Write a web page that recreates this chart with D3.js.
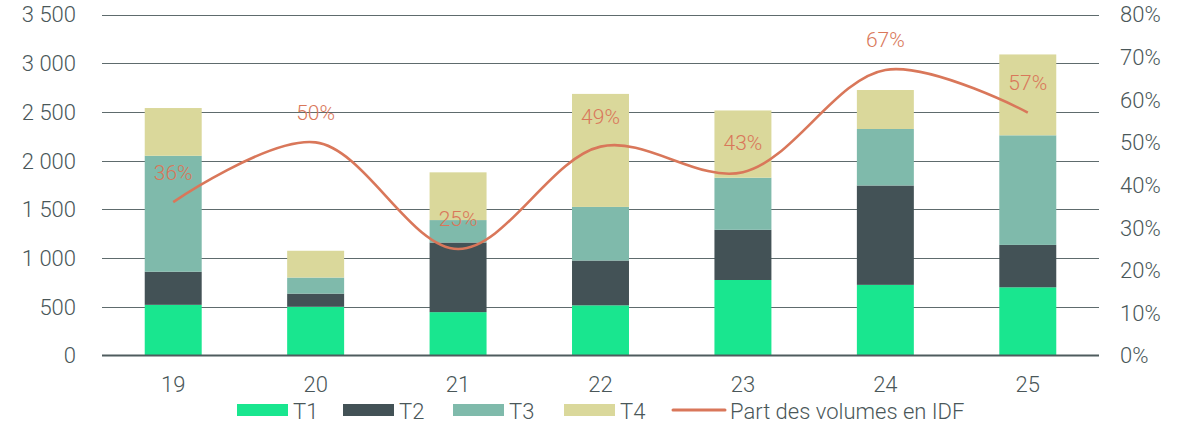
<!DOCTYPE html>
<html><head><meta charset="utf-8">
<script src="https://cdn.jsdelivr.net/npm/d3@7"></script>
<style>body{margin:0;background:#fff;}svg{display:block;font-family:Roboto,"Noto Sans",sans-serif;font-weight:300;}</style>
</head><body><svg id="c" width="1186" height="423"></svg>
<script>
const categories = ["19","20","21","22","23","24","25"];
const T1 = [520, 500, 445, 515, 775, 725, 700];
const T2 = [340, 135, 715, 460, 515, 1020, 435];
const T3 = [1190, 165, 230, 550, 535, 580, 1125];
const T4 = [490, 275, 490, 1160, 690, 400, 830];
const partIDF = [36, 50, 25, 49, 43, 67, 57];
const leftTicks = [0,500,1000,1500,2000,2500,3000,3500];
const rightTicks = [0,10,20,30,40,50,60,70,80];
const seriesNames = ["T1","T2","T3","T4"];
const colors = ["#19E68F","#435256","#7FBAAB","#DAD89B"];
const lineColor = "#D9775A";
const textColor = "#4A5759";

const svg = d3.select("#c");
const m = {l:102, r:1099, t:14.5, b:355.5};
const x = d3.scaleBand().domain(categories).range([m.l, m.r]).paddingInner(0.6).paddingOuter(0.3);
const y = d3.scaleLinear().domain([0,3500]).range([m.b, m.t]);
const y2 = d3.scaleLinear().domain([0,80]).range([m.b, m.t]);
const fs = 22;

// gridlines
svg.append("g").selectAll("line").data(leftTicks.filter(d=>d>0)).join("line")
  .attr("x1", m.l).attr("x2", m.r)
  .attr("y1", d=>Math.round(y(d))+0.5).attr("y2", d=>Math.round(y(d))+0.5)
  .attr("stroke", "#5E6B6D").attr("stroke-width", 1);

// left axis labels
svg.append("g").selectAll("text").data(leftTicks).join("text")
  .attr("x", 76).attr("y", d=>y(d)).attr("dy","0.36em")
  .attr("text-anchor","end").attr("fill", textColor).attr("font-size", fs)
  .text(d=>d3.format(",")(d).replace(",", " "));

// right axis labels
svg.append("g").selectAll("text").data(rightTicks).join("text")
  .attr("x", 1120).attr("y", d=>y2(d)).attr("dy","0.36em")
  .attr("text-anchor","start").attr("fill", textColor).attr("font-size", fs)
  .text(d=>d+"%");

// stacked bars
const rows = categories.map((c,i)=>({cat:c, T1:T1[i], T2:T2[i], T3:T3[i], T4:T4[i]}));
const stack = d3.stack().keys(seriesNames)(rows);
svg.append("g").selectAll("g").data(stack).join("g")
  .attr("fill", (d,i)=>colors[i])
  .selectAll("rect").data(d=>d).join("rect")
  .attr("x", d=>x(d.data.cat)).attr("width", x.bandwidth())
  .attr("y", d=>y(d[1])).attr("height", d=>y(d[0])-y(d[1]));

// baseline
svg.append("line").attr("x1", m.l).attr("x2", m.r).attr("y1", m.b).attr("y2", m.b)
  .attr("stroke", "#4F5C5E").attr("stroke-width", 2);

// x labels
svg.append("g").selectAll("text").data(categories).join("text")
  .attr("x", d=>x(d)+x.bandwidth()/2).attr("y", 384).attr("dy","0.36em")
  .attr("text-anchor","middle").attr("fill", textColor).attr("font-size", fs).text(d=>d);

// line
const line = d3.line().x((d,i)=>x(categories[i])+x.bandwidth()/2).y(d=>y2(d)).curve(d3.curveCatmullRom.alpha(0.5));
svg.append("path").datum(partIDF).attr("d", line).attr("fill","none")
  .attr("stroke", lineColor).attr("stroke-width", 2.6);

// line labels
svg.append("g").selectAll("text").data(partIDF).join("text")
  .attr("x", (d,i)=>x(categories[i])+x.bandwidth()/2).attr("y", d=>y2(d)-30).attr("dy","0.36em")
  .attr("text-anchor","middle").attr("fill", lineColor).attr("font-size", 21).text(d=>d+"%");

// legend
const leg = svg.append("g");
const legItems = [
  {name:"T1", x:237, type:"rect", color:colors[0]},
  {name:"T2", x:343, type:"rect", color:colors[1]},
  {name:"T3", x:453, type:"rect", color:colors[2]},
  {name:"T4", x:564, type:"rect", color:colors[3]},
  {name:"Part des volumes en IDF", x:673, type:"line", color:lineColor}
];
legItems.forEach(it=>{
  if(it.type==="rect"){
    leg.append("rect").attr("x", it.x).attr("y", 404).attr("width", 51).attr("height", 12).attr("fill", it.color);
  } else {
    leg.append("line").attr("x1", it.x).attr("x2", it.x+52).attr("y1", 410).attr("y2", 410)
      .attr("stroke", it.color).attr("stroke-width", 3).attr("stroke-linecap","round");
  }
  leg.append("text").attr("x", it.x+(it.type==="rect"?56:57)).attr("y", 411).attr("dy","0.36em")
    .attr("fill", textColor).attr("font-size", fs).text(it.name);
});
</script></body></html>
